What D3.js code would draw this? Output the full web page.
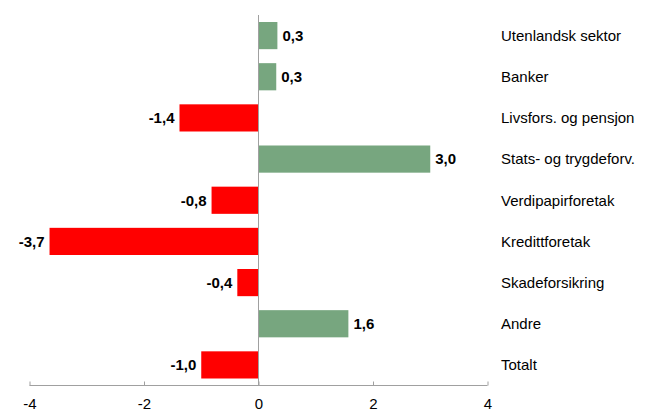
<!DOCTYPE html>
<html>
<head>
<meta charset="utf-8">
<script src="https://cdn.jsdelivr.net/npm/d3@7"></script>
<style>
  body { margin: 0; background: #fff; }
  text { font-family: "Liberation Sans", Arial, sans-serif; }
</style>
</head>
<body>
<script>
// data
var categories = ["Utenlandsk sektor", "Banker", "Livsfors. og pensjon", "Stats- og trygdeforv.",
                  "Verdipapirforetak", "Kredittforetak", "Skadeforsikring", "Andre", "Totalt"];
var values = [0.33, 0.31, -1.38, 3.0, -0.82, -3.65, -0.37, 1.57, -1.0];
var valueLabels = ["0,3", "0,3", "-1,4", "3,0", "-0,8", "-3,7", "-0,4", "1,6", "-1,0"];
var tickValues = [-4, -2, 0, 2, 4];

// layout magic numbers
var w = 662;
var h = 416;
var plotLeft = 29.5;
var plotRight = 487.5;
var plotTop = 15;
var plotBottom = 385.5;
var labelX = 501;
var fontSize = "15px";

var svg = d3.select("body").append("svg")
            .attr("width", w)
            .attr("height", h);

var x = d3.scaleLinear().domain([-4, 4]).range([plotLeft, plotRight]);
var y = d3.scaleBand().domain(categories).range([plotTop, plotBottom]).paddingInner(0.34).paddingOuter(0.17);

var rows = categories.map(function(c, i) { return { cat: c, v: values[i], lab: valueLabels[i] }; });

// bars
svg.selectAll("rect.bar")
   .data(rows)
   .enter()
   .append("rect")
   .attr("class", "bar")
   .attr("x", function(d) { return x(Math.min(0, d.v)); })
   .attr("y", function(d) { return y(d.cat); })
   .attr("width", function(d) { return Math.abs(x(d.v) - x(0)); })
   .attr("height", y.bandwidth())
   .attr("fill", function(d) { return d.v < 0 ? "#ff0000" : "#77a67f"; });

// zero line
svg.append("line")
   .attr("x1", x(0)).attr("x2", x(0))
   .attr("y1", plotTop).attr("y2", plotBottom)
   .attr("stroke", "#a0a0a0")
   .attr("stroke-width", 1);

// x axis
var axis = svg.append("g")
   .attr("transform", "translate(0," + plotBottom + ")")
   .call(d3.axisBottom(x).tickValues(tickValues).tickSize(-4).tickPadding(13)
          .tickFormat(function(d) { return String(d).replace("−", "-"); }));
axis.select(".domain").attr("stroke", "#a0a0a0").attr("d", "M" + plotLeft + ",0H" + plotRight);
axis.selectAll(".tick line").attr("stroke", "#a0a0a0");
axis.selectAll(".tick text")
    .attr("fill", "#000")
    .style("font-size", fontSize);

// value labels
svg.selectAll("text.val")
   .data(rows)
   .enter()
   .append("text")
   .attr("class", "val")
   .attr("x", function(d) { return d.v < 0 ? x(d.v) - 5 : x(d.v) + 5; })
   .attr("y", function(d) { return y(d.cat) + y.bandwidth() / 2; })
   .attr("dy", "0.35em")
   .attr("text-anchor", function(d) { return d.v < 0 ? "end" : "start"; })
   .style("font-size", fontSize)
   .style("font-weight", "bold")
   .text(function(d) { return d.lab; });

// category labels
svg.selectAll("text.cat")
   .data(rows)
   .enter()
   .append("text")
   .attr("class", "cat")
   .attr("x", labelX)
   .attr("y", function(d) { return y(d.cat) + y.bandwidth() / 2; })
   .attr("dy", "0.35em")
   .style("font-size", fontSize)
   .text(function(d) { return d.cat; });
</script>
</body>
</html>
